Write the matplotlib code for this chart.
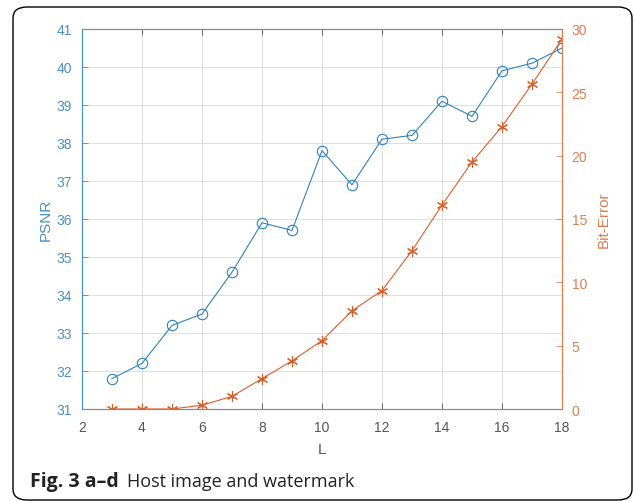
import numpy as np
import matplotlib
matplotlib.use("Agg")
from matplotlib import pyplot as plt
from matplotlib.patches import FancyBboxPatch

# data
L = [3, 4, 5, 6, 7, 8, 9, 10, 11, 12, 13, 14, 15, 16, 17, 18]
psnr = [31.8, 32.2, 33.2, 33.5, 34.6, 35.9, 35.7, 37.8, 36.9, 38.1, 38.2, 39.1, 38.7, 39.9, 40.1, 40.5]
bit_error = [0.0, 0.0, 0.0, 0.3, 1.0, 2.4, 3.8, 5.4, 7.75, 9.35, 12.5, 16.1, 19.5, 22.3, 25.65, 29.2]
xticks = [2, 4, 6, 8, 10, 12, 14, 16, 18]
lticks = [31, 32, 33, 34, 35, 36, 37, 38, 39, 40, 41]
rticks = [0, 5, 10, 15, 20, 25, 30]

blue = "#2F82C0"
orange = "#DB5E2A"
blue_txt = "#4A8FC8"
orange_txt = "#DE7E50"
axis_gray = "#8a8a8a"

plt.rcParams['font.family'] = ['Liberation Sans', 'DejaVu Sans']

fig = plt.figure(figsize=(6.34, 5.02), dpi=100)

# rounded frame around the whole figure
frame = FancyBboxPatch((13 / 634, 1 - 501 / 502), 619 / 634, 493 / 502,
                       boxstyle="round,pad=0,rounding_size=0.022",
                       transform=fig.transFigure, fill=False,
                       edgecolor="black", linewidth=1.0)
fig.patches.append(frame)

ax1 = fig.add_axes([82 / 634, 1 - 410 / 502, 480 / 634, 380 / 502])
ax2 = ax1.twinx()

ax1.plot(L, psnr, '-o', color=blue, lw=0.8, markersize=7.5,
         markerfacecolor='none', markeredgewidth=0.8)
ax2.plot(L, bit_error, '-', color=orange, lw=0.8, marker=(6, 2, 0),
         markersize=8, markeredgewidth=0.8)

ax1.set_xlim(2, 18)
ax1.set_ylim(31, 41)
ax2.set_ylim(0, 30)
ax1.set_xticks(xticks)
ax1.set_yticks(lticks)
ax2.set_yticks(rticks)

ax1.grid(True, color="#dedede", linewidth=0.7)
ax1.set_axisbelow(True)

ax1.tick_params(axis='x', direction='in', top=True, length=4, labelsize=10,
                colors="#555555", width=0.6, pad=8)
ax1.tick_params(axis='y', direction='in', length=4, labelsize=10,
                colors=blue_txt, width=0.6, pad=7)
ax2.tick_params(axis='y', direction='in', length=4, labelsize=10,
                colors=orange_txt, width=0.6, pad=7)

for ax in (ax1, ax2):
    ax.spines['top'].set_color(axis_gray)
    ax.spines['bottom'].set_color(axis_gray)
    ax.spines['left'].set_color(blue_txt)
    ax.spines['right'].set_color(orange_txt)

ax1.set_xlabel("L", fontsize=11, color="#555555", labelpad=6)
ax1.set_ylabel("PSNR", fontsize=11, color=blue_txt, labelpad=3)
ax2.set_ylabel("Bit-Error", fontsize=11, color=orange_txt, labelpad=7)

fig.text(30 / 634, 1 - 487 / 502, "Fig. 3 a–d", fontsize=14,
         fontweight='bold', family=['Open Sans', 'DejaVu Sans'],
         color="#222222", va='baseline')
fig.text(127 / 634, 1 - 487 / 502, "Host image and watermark", fontsize=13,
         family=['Open Sans', 'DejaVu Sans'], color="#222222", va='baseline')

fig.savefig("out.png", dpi=100)
